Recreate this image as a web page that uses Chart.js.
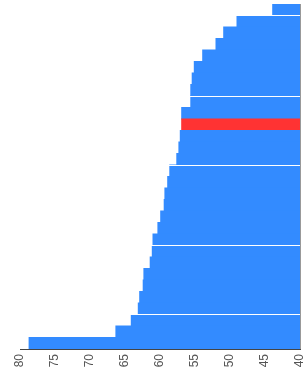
<!DOCTYPE html>
<html>
<head>
<meta charset="utf-8">
<script src="https://cdn.jsdelivr.net/npm/chart.js@4/dist/chart.umd.min.js"></script>
<style>
  html, body { margin: 0; padding: 0; background: #ffffff; overflow: hidden; }
  #wrap { width: 305px; height: 379px; position: relative; }
</style>
</head>
<body>
<div id="wrap"><canvas id="c"></canvas></div>
<script>
// ---- data ----
const categories = [
  'Item 1','Item 2','Item 3','Item 4','Item 5','Item 6','Item 7','Item 8','Item 9','Item 10',
  'Item 11','Item 12','Item 13','Item 14','Item 15','Item 16','Item 17','Item 18','Item 19','Item 20',
  'Item 21','Item 22','Item 23','Item 24','Item 25','Item 26','Item 27','Item 28','Item 29','Item 30'
];
const values = [
  43.9, 49.0, 50.9, 52.0, 53.9, 55.1, 55.4, 55.6, 55.6, 56.9,
  56.9, 57.1, 57.3, 57.6, 58.6, 58.9, 59.3, 59.4, 59.9, 60.3,
  61.0, 61.1, 61.4, 62.3, 62.4, 62.9, 63.1, 64.1, 66.3, 78.7
];
const highlightIndex = 10;
const separatorIndices = [1, 8, 14, 21, 27];
const xTickValues = [80, 75, 70, 65, 60, 55, 50, 45, 40];
const baselineValue = 40;

const BLUE = '#338bff';
const RED = '#ff3333';

const barColors = values.map((v, i) => i === highlightIndex ? RED : BLUE);

new Chart(document.getElementById('c'), {
  type: 'bar',
  data: {
    labels: categories,
    datasets: [{
      data: values,
      backgroundColor: barColors,
      borderWidth: 0,
      inflateAmount: 0.5,
      barPercentage: 1.0,
      categoryPercentage: 1.0
    }]
  },
  options: {
    indexAxis: 'y',
    responsive: true,
    maintainAspectRatio: false,
    animation: false,
    layout: { padding: { left: 20, right: 5, top: 4, bottom: 0 } },
    plugins: { legend: { display: false }, tooltip: { enabled: false } },
    scales: {
      x: {
        reverse: true,
        min: 40,
        max: 80,
        afterBuildTicks: (axis) => { axis.ticks = xTickValues.map(v => ({ value: v })); },
        afterFit: (axis) => {
          axis.paddingLeft = 0;
          axis.paddingRight = 0;
          axis.height = 30;
        },
        grid: {
          display: true,
          drawTicks: false,
          lineWidth: 1,
          color: (ctx) => (ctx.tick && ctx.tick.value === baselineValue) ? '#999999' : 'rgba(0,0,0,0)'
        },
        border: { display: true, color: '#444444', width: 1 },
        ticks: {
          color: '#555555',
          font: { size: 12 },
          padding: 5,
          minRotation: 90,
          maxRotation: 90,
          autoSkip: false
        }
      },
      y: {
        position: 'right',
        afterFit: (axis) => {
          axis.paddingTop = 0;
          axis.paddingBottom = 0;
          axis.width = 0;
        },
        grid: {
          display: true,
          drawTicks: false,
          z: 1,
          lineWidth: 1,
          color: (ctx) => separatorIndices.includes(ctx.index) ? '#ffffff' : 'rgba(0,0,0,0)'
        },
        border: { display: false },
        ticks: { display: false }
      }
    }
  }
});
</script>
</body>
</html>
